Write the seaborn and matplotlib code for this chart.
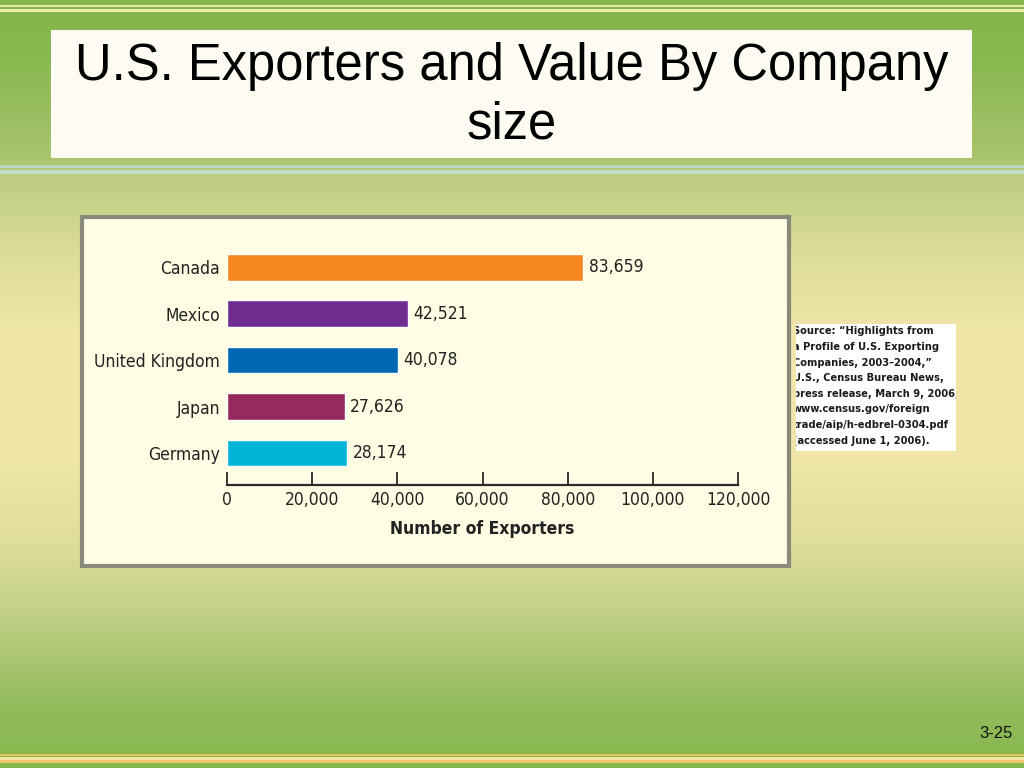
import matplotlib
matplotlib.use('Agg')
import matplotlib.pyplot as plt
import seaborn as sns
import numpy as np
import pandas as pd
from matplotlib.patches import Rectangle
from matplotlib.colors import to_rgb
from matplotlib.ticker import FuncFormatter

# ---- data ----
countries = ['Canada', 'Mexico', 'United Kingdom', 'Japan', 'Germany']
exporters = [83659, 42521, 40078, 27626, 28174]
bar_colors = ['#f5871f', '#722c8f', '#0068b2', '#962a5d', '#00b4d7']
x_ticks = [0, 20000, 40000, 60000, 80000, 100000, 120000]
x_label = 'Number of Exporters'
title = 'U.S. Exporters and Value By Company\nsize'
source_lines = [
    'Source: \u201cHighlights from',
    'a Profile of U.S. Exporting',
    'Companies, 2003\u20132004,\u201d',
    'U.S., Census Bureau News,',
    'press release, March 9, 2006,',
    'www.census.gov/foreign',
    'trade/aip/h-edbrel-0304.pdf',
    '(accessed June 1, 2006).',
]
slide_number = '3-25'

sns.set_theme(style='white')
plt.rcParams['font.family'] = ['DejaVu Sans']
plt.rcParams['font.stretch'] = 'condensed'
TXT = '#222222'

W, H = 1024, 768
fig = plt.figure(figsize=(10.24, 7.68), dpi=100)

# ---- slide background ----
bg = fig.add_axes([0, 0, 1, 1])
stops_y = [0, 60, 158, 178, 250, 330, 450, 540, 620, 700, 768]
stops_c = ['#84b64c', '#88b850', '#a8c46c', '#bccc80', '#dcdc98', '#efe6a8',
           '#f1e7a8', '#e0de9c', '#bfcf84', '#94bc5c', '#86b74e']
ys = np.arange(H) + 0.5
rgb = np.array([to_rgb(c) for c in stops_c])
grad = np.stack([np.interp(ys, stops_y, rgb[:, k]) for k in range(3)], axis=-1)
img = np.repeat(grad[:, None, :], 2, axis=1)
bg.imshow(img, extent=[0, W, H, 0], aspect='auto', interpolation='bilinear')
bg.set_xlim(0, W)
bg.set_ylim(H, 0)
bg.axis('off')

def band(y0, h, c):
    bg.add_patch(Rectangle((0, y0), W, h, facecolor=c, edgecolor='none', lw=0))

# top stripes
band(4.5, 2, '#e6eaa0')
band(9, 3, '#eeeeac')
# stripes under title
band(164.5, 3, '#bcd4c4')
band(169.5, 4, '#c6dac8')
# bottom stripes
band(753.5, 2.5, '#e8c464')
band(756.5, 3, '#f6e6a4')
band(760, 2.5, '#eec86c')

# title box
bg.add_patch(Rectangle((51, 30), 921, 128, facecolor='#fefcf2', edgecolor='none'))
bg.text(512, 96, title, ha='center', va='center', fontsize=36.5, color='black',
        family=['Liberation Sans', 'DejaVu Sans'], fontstretch='normal',
        linespacing=1.26)

# chart panel
bg.add_patch(Rectangle((81.5, 216.5), 707, 349, facecolor='#fffde4',
                       edgecolor='#8a8a7c', lw=3))

# source box
src_rect = Rectangle((796, 324), 160, 127, facecolor='white', edgecolor='none')
bg.add_patch(src_rect)
for i, line in enumerate(source_lines):
    t = bg.text(793, 331.5 + i * 15.6, line, ha='left', va='center', fontsize=7.9,
                color='#1a1a1a', fontweight='bold', clip_on=True)
    t.set_clip_path(src_rect)

# slide number
bg.text(1013, 733, slide_number, ha='right', va='center', fontsize=12,
        color='#111111', family=['Liberation Sans', 'DejaVu Sans'],
        fontstretch='normal')

# ---- bar chart ----
ax = fig.add_axes([227 / W, 1 - 485 / H, 511 / W, 241 / H])
ax.patch.set_alpha(0)
df = pd.DataFrame({'country': countries, 'exporters': exporters})
sns.barplot(data=df, x='exporters', y='country', hue='country', palette=bar_colors,
            orient='h', width=0.575, legend=False, saturation=1, ax=ax)
ax.set_xlim(0, 120000)
ax.set_ylim(4.69, -0.5)
for s in ['top', 'right', 'left']:
    ax.spines[s].set_visible(False)
ax.spines['bottom'].set_linewidth(1.6)
ax.spines['bottom'].set_color('#2a2a2a')
ax.set_xticks(x_ticks)
ax.xaxis.set_major_formatter(FuncFormatter(lambda v, p: f'{v:,.0f}'))
ax.tick_params(axis='x', bottom=True, direction='in', length=9.5, width=1.3,
               color='#2a2a2a', labelsize=12.5, pad=4, labelcolor=TXT)
ax.tick_params(axis='y', left=False, length=0, pad=5, labelsize=12.5, labelcolor=TXT)
ax.set_xlabel(x_label, fontsize=12.5, fontweight='bold', color=TXT, labelpad=8)
ax.set_ylabel('')
ax.grid(False)
for c in ax.containers:
    ax.bar_label(c, fmt='{:,.0f}', padding=4, fontsize=12.5, color=TXT)

fig.savefig('out.png', dpi=100)
